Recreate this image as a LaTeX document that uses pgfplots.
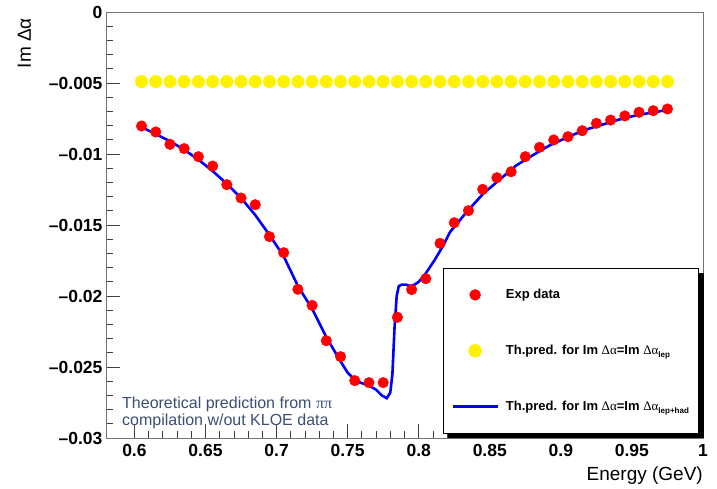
\documentclass[border=0pt]{standalone}
\usepackage{pgfplots}
\pgfplotsset{compat=1.18}
\usepackage{fontspec}
\setmainfont{Liberation Sans}
\newfontfamily\symfont{Liberation Serif}
\usetikzlibrary{shadows}
\definecolor{annot}{RGB}{60,78,115}
\pgfplotsset{
  lineleg/.style={legend image code/.code={%
    \pgfsetlinewidth{3.5pt}\pgfsetstrokecolor{blue}%
    \pgfpathmoveto{\pgfpoint{0pt}{0pt}}\pgfpathlineto{\pgfpoint{45pt}{0pt}}\pgfusepath{stroke}}},
  markleg/.style={legend image code/.code={\draw[mark repeat=2,mark phase=2,##1] plot coordinates {(0pt,0pt)(22pt,0pt)(44pt,0pt)};}},
}

\pgfplotstableread{
E      v
0.605 -0.00803
0.615 -0.00845
0.625 -0.00932
0.635 -0.00962
0.645 -0.01019
0.655 -0.01085
0.665 -0.01216
0.675 -0.01310
0.685 -0.01357
0.695 -0.01582
0.705 -0.01695
0.715 -0.01953
0.725 -0.02066
0.735 -0.02315
0.745 -0.02427
0.755 -0.02596
0.765 -0.02610
0.775 -0.02610
0.785 -0.02150
0.795 -0.01955
0.805 -0.01878
0.815 -0.01629
0.825 -0.01484
0.835 -0.01399
0.845 -0.01249
0.855 -0.01167
0.865 -0.01125
0.875 -0.01019
0.885 -0.00953
0.895 -0.00901
0.905 -0.00878
0.915 -0.00836
0.925 -0.00784
0.935 -0.00761
0.945 -0.00732
0.955 -0.00706
0.965 -0.00695
0.975 -0.00683
}\expdata

\pgfplotstableread{
E      v
0.605 -0.0049
0.615 -0.0049
0.625 -0.0049
0.635 -0.0049
0.645 -0.0049
0.655 -0.0049
0.665 -0.0049
0.675 -0.0049
0.685 -0.0049
0.695 -0.0049
0.705 -0.0049
0.715 -0.0049
0.725 -0.0049
0.735 -0.0049
0.745 -0.0049
0.755 -0.0049
0.765 -0.0049
0.775 -0.0049
0.785 -0.0049
0.795 -0.0049
0.805 -0.0049
0.815 -0.0049
0.825 -0.0049
0.835 -0.0049
0.845 -0.0049
0.855 -0.0049
0.865 -0.0049
0.875 -0.0049
0.885 -0.0049
0.895 -0.0049
0.905 -0.0049
0.915 -0.0049
0.925 -0.0049
0.935 -0.0049
0.945 -0.0049
0.955 -0.0049
0.965 -0.0049
0.975 -0.0049
}\leppred

\pgfplotstableread{
E       v
0.605  -0.0081
0.615  -0.0086
0.625  -0.0091
0.635  -0.0097
0.645  -0.0104
0.655  -0.0112
0.665  -0.0121
0.675  -0.0131
0.685  -0.0143
0.695  -0.0157
0.705  -0.0172
0.715  -0.0193
0.725  -0.0209
0.735  -0.0229
0.745  -0.0246
0.750  -0.0254
0.756  -0.0260
0.765  -0.0263
0.770  -0.0266
0.774  -0.0270
0.7775 -0.0272
0.780  -0.0268
0.7815 -0.0255
0.783  -0.0222
0.7845 -0.0200
0.786  -0.0193
0.788  -0.0192
0.791  -0.0192
0.794  -0.0193
0.797  -0.0192
0.800  -0.0190
0.805  -0.0184
0.811  -0.0175
0.8175 -0.0164
0.822  -0.0155
0.8336 -0.0141
0.8453 -0.0128
0.857  -0.0118
0.8687 -0.0108
0.880  -0.0101
0.892  -0.0094
0.905  -0.0088
0.917  -0.0083
0.927  -0.0080
0.940  -0.0076
0.952  -0.0073
0.963  -0.0071
0.975  -0.0069
}\hadpred

\begin{document}
\begin{tikzpicture}
\useasboundingbox (-106pt,-51pt) rectangle (611pt,438pt);
\begin{axis}[
  at={(0,0)}, anchor=south west,
  scale only axis, width=597pt, height=426pt,
  xmin=0.58, xmax=1.0, ymin=-0.03, ymax=0,
  axis line style={black!55, line width=0.8pt},
  xtick={0.6,0.65,0.7,0.75,0.8,0.85,0.9,0.95,1},
  xticklabels={0.6,0.65,0.7,0.75,0.8,0.85,0.9,0.95,1},
  ytick={-0.03,-0.025,-0.02,-0.015,-0.01,-0.005,0},
  yticklabels={\textendash0.03,\textendash0.025,\textendash0.02,\textendash0.015,\textendash0.01,\textendash0.005,0},
  scaled ticks=false,
  minor x tick num=4, minor y tick num=4,
  tick align=inside, xtick pos=lower, ytick pos=left,
  major tick length=14pt, minor tick length=7pt,
  every tick/.style={black!75, line width=0.8pt},
  tick label style={font=\fontsize{17.5}{17.5}\selectfont\bfseries},
  xticklabel style={yshift=-3pt},
  ylabel={Im Δα},
  ylabel style={at={(axis description cs:-0.1365,0.986)}, anchor=east, inner sep=0pt, font=\fontsize{19}{19}\selectfont},
  xlabel={Energy (GeV)},
  xlabel style={at={(axis description cs:1,-0.088)}, anchor=east, inner sep=0pt, font=\fontsize{19}{19}\selectfont},
  legend style={
    at={(0.5645,0.399)}, anchor=north west,
    draw=black, line width=0.8pt, fill=white,
    font=\fontsize{13}{13}\selectfont\bfseries,
    row sep=41pt, inner xsep=8pt, inner ysep=19pt,
    drop shadow={shadow xshift=5pt, shadow yshift=-5pt, fill=black, opacity=1},
    cells={anchor=west},
    /tikz/column 1/.style={column sep=4pt},
  },
]
\addplot[blue, line width=2.6pt, forget plot] table[x=E, y=v] {\hadpred};
\addplot[only marks, mark=*, mark size=5.3pt, mark options={draw=red, fill=red}, markleg] table[x=E, y=v] {\expdata};
\addlegendentry{Exp data}
\addplot[only marks, mark=*, mark size=6.3pt, mark options={draw=yellow, fill=yellow}, markleg] table[x=E, y=v] {\leppred};
\addlegendentry{Th.pred. for Im {\mdseries\symfont Δα}=Im {\mdseries\symfont Δα}\raisebox{-3pt}{\fontsize{8}{8}\selectfont lep}}
\addlegendimage{lineleg}
\addlegendentry{Th.pred. for Im {\mdseries\symfont Δα}=Im {\mdseries\symfont Δα}\raisebox{-3pt}{\fontsize{8}{8}\selectfont lep+had}}
\node[anchor=north west, inner sep=0pt, align=left, text=annot, font=\fontsize{16}{17}\selectfont]
  at (rel axis cs:0.0268,0.0962) {Theoretical prediction from {\symfont ππ}\\compilation w/out KLOE data};
\end{axis}
\end{tikzpicture}
\end{document}
